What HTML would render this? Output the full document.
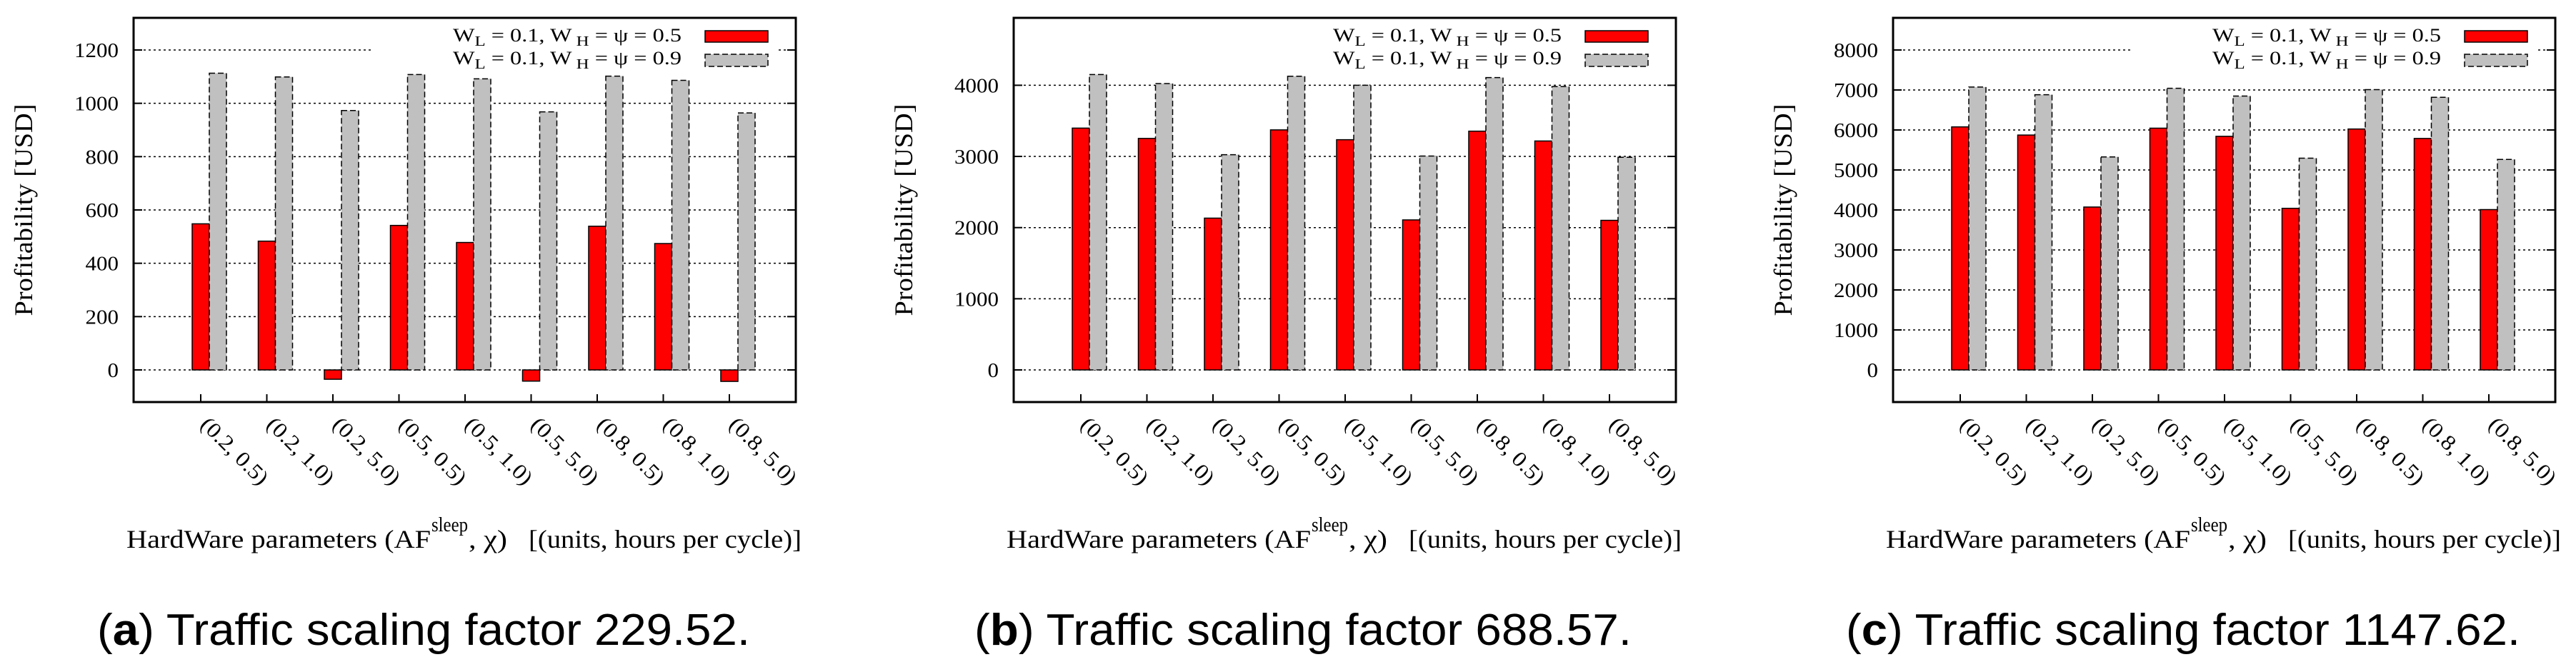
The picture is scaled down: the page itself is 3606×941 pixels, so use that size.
<!DOCTYPE html>
<html><head><meta charset="utf-8"><title>Profitability charts</title>
<style>
html,body{margin:0;padding:0;background:#fff;}
svg{display:block;}
text{font-family:"Liberation Serif",serif;fill:#000;}
.cap{font-family:"Liberation Sans",sans-serif;}
</style></head>
<body>
<svg id="fig" width="3606" height="941" viewBox="0 0 3606 941" xmlns="http://www.w3.org/2000/svg"></svg>
<script>
const categories = ["(0.2, 0.5)","(0.2, 1.0)","(0.2, 5.0)","(0.5, 0.5)","(0.5, 1.0)","(0.5, 5.0)","(0.8, 0.5)","(0.8, 1.0)","(0.8, 5.0)"];
const redA = [548, 483, -35, 542, 478, -42, 539, 474, -43];
const grayA = [1113, 1099, 973, 1108, 1092, 968, 1102, 1086, 964];
const redB = [3398, 3253, 2133, 3373, 3235, 2108, 3355, 3217, 2102];
const grayB = [4151, 4024, 3024, 4127, 4000, 3006, 4108, 3982, 2988];
const redC = [6077, 5873, 4073, 6045, 5841, 4041, 6024, 5788, 4009];
const grayC = [7074, 6881, 5327, 7042, 6849, 5295, 7010, 6817, 5263];
const yTicksA = [0, 200, 400, 600, 800, 1000, 1200];
const yTicksB = [0, 1000, 2000, 3000, 4000];
const yTicksC = [0, 1000, 2000, 3000, 4000, 5000, 6000, 7000, 8000];
const yTopA = 1200, yTopB = 4000, yTopC = 8000;
const seriesLabels = ["0.5", "0.9"];
const captionsLetter = ["a", "b", "c"];
const captionsValue = ["229.52", "688.57", "1147.62"];

const NS = "http://www.w3.org/2000/svg";
const svg = document.getElementById("fig");
function mk(tag, attrs, parent) {
  const e = document.createElementNS(NS, tag);
  for (const k in attrs) e.setAttribute(k, attrs[k]);
  (parent || svg).appendChild(e);
  return e;
}

const panels = [
  {L:187, red:redA, gray:grayA, ticks:yTicksA, top:yTopA, pxTop:70, cap:-51, capEnd:863},
  {L:1419, red:redB, gray:grayB, ticks:yTicksB, top:yTopB, pxTop:119.4, cap:-55, capEnd:865},
  {L:2650, red:redC, gray:grayC, ticks:yTicksC, top:yTopC, pxTop:70, cap:-66, capEnd:878}
];
const TOP = 25, BOT = 563, ZERO = 518, W = 927;

panels.forEach((p, pi) => {
  const g = mk("g", {});
  
  
  const L = p.L, R = L + W;
  const y = v => ZERO - v * (ZERO - p.pxTop) / p.top;
  const x = i => L + 94 + i * 92.5;

  p.ticks.forEach(t => {
    const yy = y(t);
    const gl = mk("line", {x1:L, x2:R, y1:yy, y2:yy, stroke:"#000", "stroke-width":1.5, "stroke-dasharray":"3,4"}, g);
    
    
    mk("line", {x1:L, x2:L+12, y1:yy, y2:yy, stroke:"#000", "stroke-width":2}, g);
    mk("line", {x1:R-12, x2:R, y1:yy, y2:yy, stroke:"#000", "stroke-width":2}, g);
    const s = String(t);
    const tl = mk("text", {x:L-21, y:yy+10, "font-size":29, "text-anchor":"end", textLength:15.5*s.length, lengthAdjust:"spacingAndGlyphs"}, g);
    tl.textContent = s;
    
    
  });

  const lb = mk("rect", {x:L+334, y:TOP+3, width:566, height:78, fill:"#fff"}, g);
  
  

  categories.forEach((c, i) => {
    const cx = x(i);
    const rv = p.red[i], gv = p.gray[i];
    const ry = Math.min(y(rv), ZERO), rh = Math.abs(y(rv) - ZERO);
    const rb = mk("rect", {x:cx-12, y:ry, width:24, height:rh, fill:"#ff0000", stroke:"#000", "stroke-width":1.5}, g);
    
    
    const gy = Math.min(y(gv), ZERO), gh = Math.abs(y(gv) - ZERO);
    const gb = mk("rect", {x:cx+12, y:gy, width:24, height:gh, fill:"#c0c0c0", stroke:"#000", "stroke-width":1.5, "stroke-dasharray":"8,4"}, g);
    
    
    mk("line", {x1:cx, x2:cx, y1:BOT, y2:BOT-11, stroke:"#000", "stroke-width":2}, g);
    const xl = mk("text", {x:0, y:0, "font-size":30, transform:`translate(${cx-2},${596}) rotate(45)`, textLength:120, lengthAdjust:"spacingAndGlyphs"}, g);
    xl.textContent = c;
    
    
  });

  const fr = mk("rect", {x:L, y:TOP, width:W, height:BOT-TOP, fill:"none", stroke:"#000", "stroke-width":3}, g);
  
  

  [0, 1].forEach(k => {
    const by = k === 0 ? 58 : 90;
    const t = mk("text", {x:L+447, y:by, "font-size":26, textLength:320, lengthAdjust:"spacingAndGlyphs"}, g);
    t.innerHTML = 'W<tspan dy="6" font-size="20">L</tspan><tspan dy="-6"> = 0.1, W</tspan><tspan dy="6" font-size="20"> H</tspan><tspan dy="-6"> = ψ = ' + seriesLabels[k] + '</tspan>';
    
    
    const sw = mk("rect", k === 0 ?
      {x:L+800, y:43, width:88, height:16, fill:"#ff0000", stroke:"#000", "stroke-width":1.5} :
      {x:L+800, y:76, width:88, height:17, fill:"#c0c0c0", stroke:"#000", "stroke-width":1.5, "stroke-dasharray":"8,4"}, g);
    
    
  });

  const yt = mk("text", {x:0, y:0, "font-size":36, "text-anchor":"middle", transform:`translate(${L-142},294) rotate(-90)`, textLength:297, lengthAdjust:"spacingAndGlyphs"}, g);
  yt.textContent = "Profitability [USD]";
  
  

  const xt1 = mk("text", {x:L-10, y:767, "font-size":36, textLength:426, lengthAdjust:"spacingAndGlyphs"}, g);
  xt1.textContent = "HardWare parameters (AF";
  
  
  const xt2 = mk("text", {x:L+417, y:744, "font-size":28, textLength:51, lengthAdjust:"spacingAndGlyphs"}, g);
  xt2.textContent = "sleep";
  
  
  const xt3 = mk("text", {x:L+469, y:767, "font-size":36, textLength:54, lengthAdjust:"spacingAndGlyphs"}, g);
  xt3.textContent = ", χ)";
  
  
  const xt4 = mk("text", {x:L+553, y:767, "font-size":36, textLength:382, lengthAdjust:"spacingAndGlyphs"}, g);
  xt4.textContent = "[(units, hours per cycle)]";
  
  

  const cp = mk("text", {x:L+p.cap, y:903, "font-size":62, "class":"cap", textLength:p.capEnd-p.cap, lengthAdjust:"spacingAndGlyphs"}, g);
  cp.innerHTML = '(<tspan font-weight="bold">' + captionsLetter[pi] + '</tspan>) Traffic scaling factor ' + captionsValue[pi] + '.';
  
  
});
</script>
</body></html>
